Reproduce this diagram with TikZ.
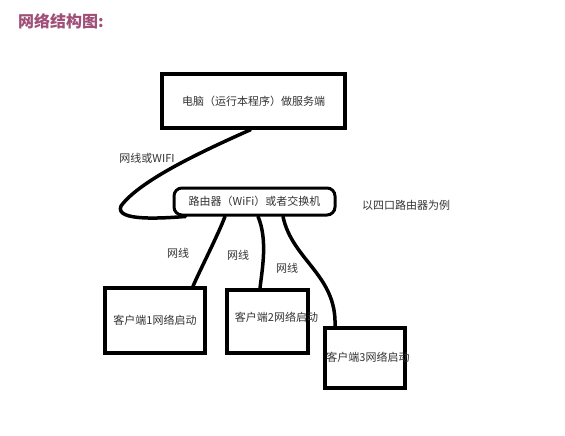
\documentclass[tikz,border=0pt]{standalone}
\usepackage{fontspec}
\newfontfamily\cjk{Noto Sans CJK SC}
\usetikzlibrary{arrows}
\definecolor{titlecol}{RGB}{160,80,120}
\definecolor{inkcol}{RGB}{50,50,50}
\tikzset{
  box_/.style   = {shape=rectangle, draw=black, line width=3.5pt, inner sep=0pt, align=center},
  hub_/.style   = {box_, line width=3pt, rounded corners=8pt},
  wire_/.style  = {draw=black, line width=3.5pt, line cap=round},
  note_/.style  = {text=inkcol, inner sep=0pt}
}

\begin{document}
\begin{tikzpicture}
		[
		x                 = 1pt,
		y                 = -1pt,
		every node/.style = {font=\cjk\fontsize{11}{13}\selectfont}
		]
		\useasboundingbox (0,0) rectangle (565,436);
		% title
		\node [anchor=west, inner sep=0pt, text=titlecol,
		       font=\cjk\bfseries\fontsize{16}{18}\selectfont] (title_) at (18,21) {网络结构图:};
		% boxes
		\node [box_, minimum width=183pt, minimum height=54pt] (server_) at (253.5,101) {\textcolor{inkcol}{电脑（运行本程序）做服务端}};
		\node [hub_, minimum width=161pt, minimum height=27pt] (router_) at (254.5,201.5) {\textcolor{inkcol}{路由器（WiFi）或者交换机}};
		\node [box_, minimum width=100pt, minimum height=65pt] (client1_) at (155,320.5) {\textcolor{inkcol}{客户端1网络启动}};
		\node [box_, minimum width=81pt, minimum height=63pt] (client2_) at (267.5,321.5) {};
		\node [box_, minimum width=80pt, minimum height=60pt] (client3_) at (365,358) {};
		\node [note_] (c2text_) at (276.5,317) {客户端2网络启动};
		\node [note_] (c3text_) at (368,357) {客户端3网络启动};
		% labels
		\node [note_] (wifi_) at (147,158) {网线或WIFI};
		\node [note_] (ports_) at (406,205) {以四口路由器为例};
		\node [note_] (cable1_) at (178,253) {网线};
		\node [note_] (cable2_) at (238,255) {网线};
		\node [note_] (cable3_) at (287,268) {网线};
		% wires
		\coordinate (bend_) at (121,206);
		\draw [wire_] ([xshift=-3pt]server_.south) .. controls (205,150) and (140,180) .. (bend_)
		      .. controls (114,222) and (165,218) .. ([xshift=13pt]router_.south west);
		\draw [wire_] ([xshift=-29.5pt]router_.south) .. controls (218,235) and (200,270) .. ([xshift=38pt]client1_.north);
		\draw [wire_] ([xshift=3.5pt]router_.south) .. controls (268,240) and (262,270) .. ([xshift=-7.5pt]client2_.north);
		\draw [wire_] ([xshift=28.5pt]router_.south) .. controls (292,260) and (337,275) .. ([xshift=-30pt]client3_.north);
\end{tikzpicture}
\end{document}
